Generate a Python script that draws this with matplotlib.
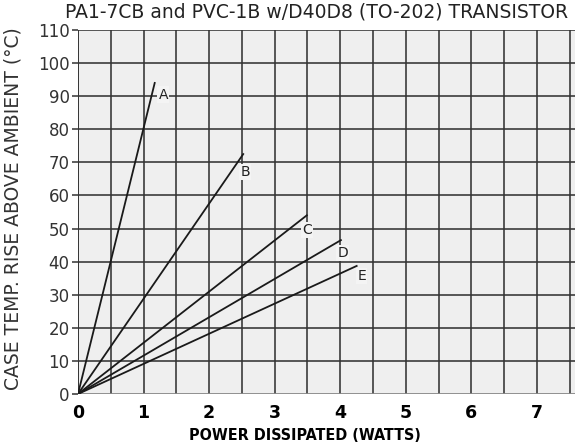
import matplotlib
matplotlib.use("Agg")
import matplotlib.pyplot as plt
import numpy as np

# Curve data (end points of straight lines starting at origin)
curve_names = ["A", "B", "C", "D", "E"]
end_watts = [1.17, 2.52, 3.49, 4.01, 4.25]
end_temps = [94.0, 72.5, 54.0, 46.5, 38.7]
label_watts = [1.30, 2.55, 3.50, 4.04, 4.33]
label_temps = [90.5, 67.0, 49.5, 42.6, 35.6]

x_ticks = [0, 1, 2, 3, 4, 5, 6, 7]
y_ticks = [0, 10, 20, 30, 40, 50, 60, 70, 80, 90, 100, 110]

title = "PA1-7CB and PVC-1B w/D40D8 (TO-202) TRANSISTOR"
xlabel = "POWER DISSIPATED (WATTS)"
ylabel = "CASE TEMP. RISE ABOVE AMBIENT (°C)"

fig = plt.figure(figsize=(5.75, 4.45), dpi=100)
fig.patch.set_facecolor("white")
ax = fig.add_axes([78/575, 51/445, 1 - 78/575, 364/445])
ax.set_facecolor("#efefef")

ax.set_xlim(0, 7.58)
ax.set_ylim(0, 110)

# grid
for gx in np.arange(0.5, 7.6, 0.5):
    ax.axvline(gx, color="#333333", lw=1.15, zorder=1)
for gy in y_ticks[1:]:
    ax.axhline(gy, color="#333333", lw=1.15, zorder=1)
ax.axvline(0, color="#333333", lw=1.4, zorder=1)
ax.axhline(0, color="#888888", lw=1.3, zorder=1)

for s in ax.spines.values():
    s.set_visible(False)

for name, ex, ey, lx, ly in zip(curve_names, end_watts, end_temps, label_watts, label_temps):
    ax.plot([0, ex], [0, ey], color="#1a1a1a", lw=1.3, zorder=3)
    ax.text(lx, ly, name, fontsize=10, ha="center", va="center", color="#222222", zorder=4,
            bbox=dict(facecolor="#f4f4f4", edgecolor="none", pad=0.8))

ax.set_xticks(x_ticks)
ax.set_xticklabels([str(v) for v in x_ticks], fontsize=12.5, fontweight="bold")
ax.set_yticks(y_ticks)
ax.set_yticklabels([str(v) for v in y_ticks], fontsize=12, color="#333333")
ax.tick_params(axis="x", length=0, pad=7)
ax.tick_params(axis="y", length=4, width=1.1, color="#333333", pad=2)

fig.text(0.551, 0.972, title, ha="center", va="center", fontsize=13.5, color="#222222")
fig.text(0.531, 0.022, xlabel, ha="center", va="center", fontsize=11.5, fontweight="bold",
         fontstretch="condensed")
fig.text(0.022, 0.532, ylabel, ha="center", va="center", rotation=90, fontsize=13.5,
         color="#333333")

fig.savefig("out.png", dpi=100)
